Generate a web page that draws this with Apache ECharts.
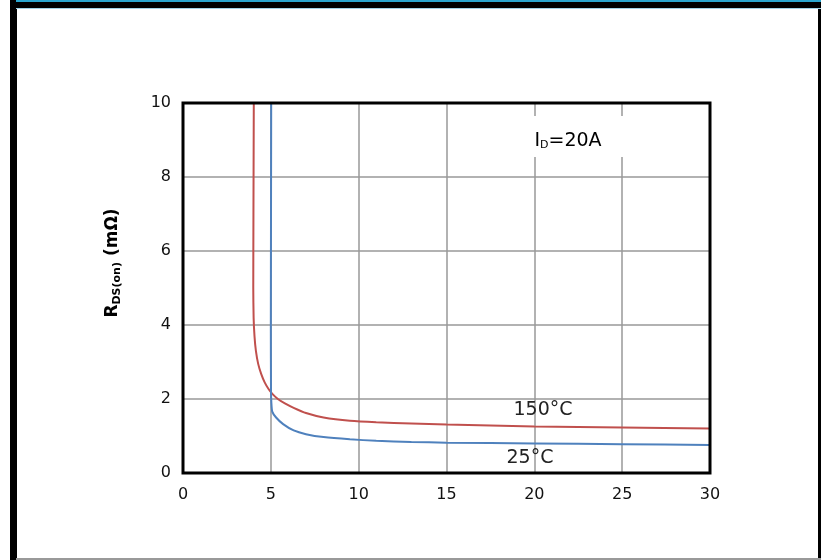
<!DOCTYPE html>
<html>
<head>
<meta charset="utf-8">
<script src="https://cdn.jsdelivr.net/npm/echarts@6/dist/echarts.min.js"></script>
<style>
html,body{margin:0;padding:0;background:#fff;}
#chart{width:821px;height:560px;}
</style>
</head>
<body>
<div id="chart"></div>
<script>
// Vgs (V) vs Rds(on) (mΩ)
var xTicks = [0, 5, 10, 15, 20, 25, 30];
var yTicks = [0, 2, 4, 6, 8, 10];
var hot150 = [[4.03,10],[4.01,7],[4.0,5],[4.02,4.2],[4.07,3.7],[4.15,3.3],[4.28,2.95],[4.45,2.68],[4.65,2.45],[4.87,2.27],[5.1,2.13],[5.4,2.0],[5.8,1.88],[6.3,1.76],[7,1.62],[8,1.5],[9.5,1.41],[11,1.37],[13,1.34],[15,1.31],[20,1.26],[25,1.23],[30,1.2]];
var room25 = [[5.02,10],[5.01,7],[5.0,4],[5.01,2.2],[5.03,1.9],[5.08,1.66],[5.3,1.5],[5.7,1.32],[6.3,1.15],[7.0,1.05],[8.0,0.97],[9.5,0.91],[11,0.87],[13,0.84],[15,0.82],[20,0.8],[25,0.78],[30,0.76]];

var chart = echarts.init(document.getElementById('chart'), null, {renderer:'canvas'});
var tickFont = {fontFamily:'DejaVu Sans', fontSize:16, color:'#111'};
chart.setOption({
  backgroundColor:'#fff',
  animation:false,
  grid:{left:183, right:111, top:103, bottom:87, show:true, borderColor:'#000', borderWidth:3, backgroundColor:'transparent', z:5},
  xAxis:{
    type:'value', min:0, max:30, interval:5,
    axisLine:{show:false}, axisTick:{show:false},
    splitLine:{show:true, showMinLine:false, showMaxLine:false, lineStyle:{color:'#999', width:1.5}},
    axisLabel:Object.assign({margin:14, formatter:function(v){return xTicks.indexOf(v)>=0?String(v):'';}}, tickFont)
  },
  yAxis:{
    type:'value', min:0, max:10, interval:2,
    axisLine:{show:false}, axisTick:{show:false},
    splitLine:{show:true, showMinLine:false, showMaxLine:false, lineStyle:{color:'#999', width:1.5}},
    axisLabel:Object.assign({margin:12, formatter:function(v){return yTicks.indexOf(v)>=0?String(v):'';}}, tickFont)
  },
  series:[
    {type:'line', name:'150°C', data:hot150, showSymbol:false, smooth:0.2, lineStyle:{color:'#c0504d', width:2}, z:3},
    {type:'line', name:'25°C', data:room25, showSymbol:false, smooth:0.2, lineStyle:{color:'#4f81bd', width:2}, z:4}
  ],
  graphic:[
    {type:'rect', shape:{x:10,y:0,width:7,height:560}, style:{fill:'#000'}, z:100},
    {type:'rect', shape:{x:818,y:0,width:3,height:560}, style:{fill:'#000'}, z:100},
    {type:'rect', shape:{x:16,y:0,width:805,height:3}, style:{fill:'#2aa6cf'}, z:100},
    {type:'rect', shape:{x:16,y:2,width:805,height:6}, style:{fill:'#000'}, z:100},
    {type:'rect', shape:{x:16,y:8,width:805,height:1}, style:{fill:'#9fd3e6'}, z:100},
    {type:'rect', shape:{x:16,y:558,width:805,height:2}, style:{fill:'#999'}, z:100},
    {type:'rect', shape:{x:524,y:116,width:108,height:41}, style:{fill:'#fff'}, z:10},
    {type:'text', x:568, y:141, z:11, style:{text:'{a|I}{b|D}{a|=20A}', align:'center', verticalAlign:'middle',
      rich:{a:{fontFamily:'DejaVu Sans', fontSize:19, color:'#222', lineHeight:22}, b:{fontFamily:'DejaVu Sans', fontSize:11, color:'#222', lineHeight:22, padding:[8,0,0,0]}}}},
    {type:'text', x:543, y:410, z:11, style:{text:'150°C', align:'center', verticalAlign:'middle', fontFamily:'DejaVu Sans', fontSize:19, fill:'#222'}},
    {type:'text', x:530, y:458, z:11, style:{text:'25°C', align:'center', verticalAlign:'middle', fontFamily:'DejaVu Sans', fontSize:19, fill:'#222'}},
    {type:'text', x:113, y:263, rotation:Math.PI/2, z:11, style:{text:'{r|R}{s|DS(on)}{r| (mΩ)}', align:'center', verticalAlign:'middle',
      rich:{r:{fontFamily:'DejaVu Sans', fontSize:17, fontWeight:'bold', color:'#111', lineHeight:22},
            s:{fontFamily:'DejaVu Sans', fontSize:11, fontWeight:'bold', color:'#111', lineHeight:22, padding:[8,0,0,0]}}}}
  ]
});
</script>
</body>
</html>
